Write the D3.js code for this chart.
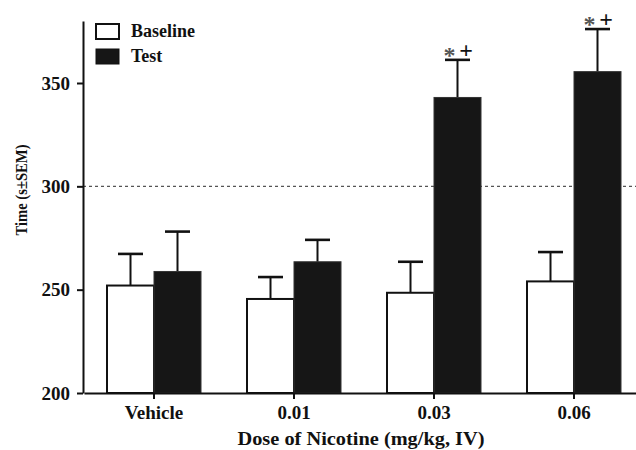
<!DOCTYPE html>
<html>
<head>
<meta charset="utf-8">
<script src="https://cdn.jsdelivr.net/npm/d3@7"></script>
<style>
  body { margin: 0; background: #fff; }
  text { font-family: "Liberation Serif", "Times New Roman", serif; }
</style>
</head>
<body>
<div id="chart"></div>
<script>
'use strict';

// values
const categories = ["Vehicle", "0.01", "0.03", "0.06"];
const series = ["Baseline", "Test"];
const baselineMean = [252, 245.5, 248.5, 254];
const baselineSem = [15.3, 10.6, 15, 14.2];
const testMean = [258.8, 263.5, 343, 355.5];
const testSem = [19.3, 10.6, 18.2, 20.6];
const starred = [false, false, true, true];
const yTicks = [200, 250, 300, 350];
const refLine = 300;

const width = 636, height = 450;
const margin = {top: 21, left: 83, bottom: 57};

const svg = d3.select("#chart").append("svg")
  .attr("width", width)
  .attr("height", height);

// scales
const x0 = d3.scaleBand()
  .domain(categories)
  .range([margin.left + 1, margin.left + 1 + 140 * categories.length])
  .padding(0);

const barW = 47;
const x1 = d3.scaleBand()
  .domain(series)
  .range([x0.bandwidth() / 2 - barW, x0.bandwidth() / 2 + barW]);

const y = d3.scaleLinear()
  .domain([200, 380])
  .range([height - margin.bottom, margin.top]);

// dotted reference line at 300
svg.append("line")
  .attr("x1", margin.left)
  .attr("x2", width)
  .attr("y1", y(refLine))
  .attr("y2", y(refLine))
  .attr("stroke", "#555")
  .attr("stroke-width", 1.2)
  .attr("stroke-dasharray", "3,3");

// build rows for bars
let rows = [];
for (let i = 0; i < categories.length; i++) {
  rows.push({cat: categories[i], s: "Baseline", mean: baselineMean[i], sem: baselineSem[i], star: false});
  rows.push({cat: categories[i], s: "Test", mean: testMean[i], sem: testSem[i], star: starred[i]});
}

const groups = svg.selectAll("g.bar")
  .data(rows)
  .enter()
  .append("g")
  .attr("class", "bar")
  .attr("transform", d => "translate(" + (x0(d.cat) + x1(d.s)) + ",0)");

// error bars (drawn first, bar tops cover the stem start)
groups.append("line")
  .attr("x1", barW / 2)
  .attr("x2", barW / 2)
  .attr("y1", d => y(d.mean))
  .attr("y2", d => y(d.mean + d.sem))
  .attr("stroke", "#111")
  .attr("stroke-width", 2);

groups.append("line")
  .attr("x1", barW / 2 - 12.5)
  .attr("x2", barW / 2 + 12.5)
  .attr("y1", d => y(d.mean + d.sem))
  .attr("y2", d => y(d.mean + d.sem))
  .attr("stroke", "#111")
  .attr("stroke-width", 2.6);

groups.append("rect")
  .attr("x", 0)
  .attr("y", d => y(d.mean))
  .attr("width", barW)
  .attr("height", d => y(200) - y(d.mean))
  .attr("fill", d => d.s == "Baseline" ? "#fff" : "#161616")
  .attr("stroke", d => d.s == "Baseline" ? "#111" : "#333")
  .attr("stroke-width", d => d.s == "Baseline" ? 2 : 1);

// significance marks: asterisk and plus side by side
const marks = groups.filter(d => d.star);
marks.append("text")
  .attr("x", barW / 2 - 8)
  .attr("y", d => y(d.mean + d.sem) + 3)
  .attr("text-anchor", "middle")
  .attr("fill", "#555")
  .style("font-size", "24px")
  .style("font-weight", "bold")
  .text("*");
marks.append("text")
  .attr("x", barW / 2 + 8.5)
  .attr("y", d => y(d.mean + d.sem) - 2)
  .attr("text-anchor", "middle")
  .attr("fill", "#111")
  .style("font-size", "24px")
  .style("font-weight", "bold")
  .text("+");

// axes
const xAxis = svg.append("g")
  .attr("transform", "translate(0," + y(200) + ")")
  .call(d3.axisBottom(x0).tickSize(6).tickSizeOuter(0).tickPadding(7));

const yAxis = svg.append("g")
  .attr("transform", "translate(" + margin.left + ",0)")
  .call(d3.axisLeft(y).tickValues(yTicks).tickSize(6).tickSizeOuter(0).tickPadding(7));

[xAxis, yAxis].forEach(a => {
  a.select(".domain").attr("stroke", "#111").attr("stroke-width", 2);
  a.selectAll(".tick line").attr("stroke", "#111").attr("stroke-width", 2);
  a.selectAll(".tick text")
    .attr("fill", "#111")
    .style("font-family", "'Liberation Serif', serif")
    .style("font-weight", "bold")
    .style("font-size", "19px");
});

// axis titles
svg.append("text")
  .attr("x", 361)
  .attr("y", 445)
  .attr("text-anchor", "middle")
  .attr("textLength", 247)
  .attr("lengthAdjust", "spacingAndGlyphs")
  .style("font-size", "19px")
  .style("font-weight", "bold")
  .attr("fill", "#111")
  .text("Dose of Nicotine (mg/kg, IV)");

svg.append("text")
  .attr("transform", "translate(27,190) rotate(-90)")
  .attr("text-anchor", "middle")
  .attr("textLength", 91)
  .attr("lengthAdjust", "spacingAndGlyphs")
  .style("font-size", "16px")
  .style("font-weight", "bold")
  .attr("fill", "#111")
  .text("Time (s\u00B1SEM)");

// legend
const legend = svg.selectAll("g.legend")
  .data(series)
  .enter()
  .append("g")
  .attr("class", "legend")
  .attr("transform", (d, i) => "translate(96," + (24 + i * 25) + ")");

legend.append("rect")
  .attr("width", 23)
  .attr("height", 15)
  .attr("fill", d => d == "Baseline" ? "#fff" : "#161616")
  .attr("stroke", "#111")
  .attr("stroke-width", d => d == "Baseline" ? 2 : 1);

legend.append("text")
  .attr("x", 35)
  .attr("y", 13.3)
  .style("font-size", "18px")
  .style("font-weight", "bold")
  .attr("fill", "#111")
  .text(d => d);
</script>
</body>
</html>
